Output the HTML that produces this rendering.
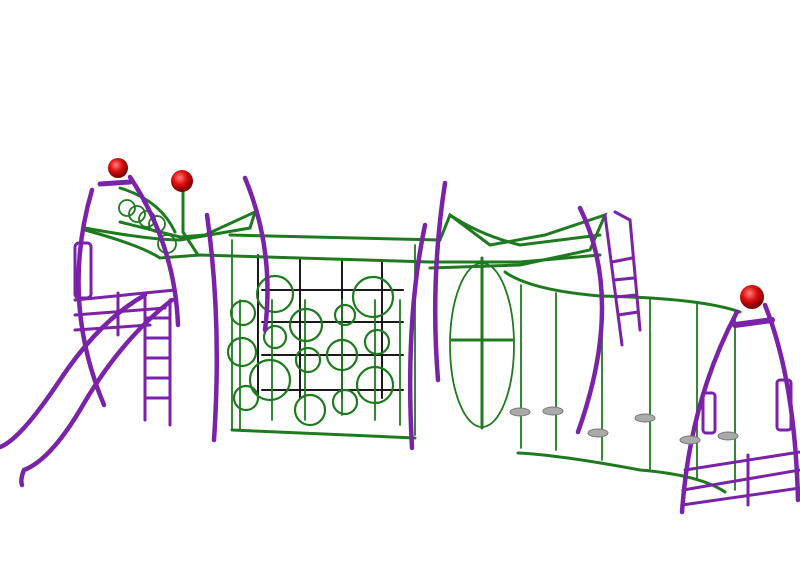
<!DOCTYPE html>
<html><head><style>html,body{margin:0;padding:0;background:#fff;width:800px;height:578px;overflow:hidden}</style></head>
<body>
<svg width="800" height="578" viewBox="0 0 800 578" xmlns="http://www.w3.org/2000/svg">
<defs>
<radialGradient id="rb" cx="40%" cy="35%" r="60%"><stop offset="0" stop-color="#ff8080"/><stop offset=".5" stop-color="#e01010"/><stop offset="1" stop-color="#800000"/></radialGradient>
</defs>
<g fill="none" stroke-linecap="round">
<g stroke="#1a1a1a" stroke-width="2">
<path d="M258 255 V395 M300 258 V398 M342 260 V398 M382 260 V398 M262 290 H403 M262 322 H403 M262 355 H403 M262 390 H403"/>
</g>
<g stroke="#1f7a1f" stroke-width="3">
<path d="M85 228 Q150 240 180 240 L250 228 L255 212 L205 235 L180 237 L120 222"/>
<path d="M85 230 Q140 245 160 258 L200 255 L430 262 L520 262 L600 255"/>
<path d="M230 235 L440 240 M232 430 L415 438"/>
<path d="M440 240 L450 215 L490 245 L545 235 L605 215 L590 250 L520 265 L430 268"/>
<path d="M450 215 Q480 235 520 245 L600 235"/>
<path d="M120 188 Q160 200 175 232 M183 190 V232 L198 255"/>
<path d="M505 272 Q530 290 600 296 Q700 298 740 312"/>
<path d="M518 453 Q560 455 640 470 Q700 475 725 492"/>
<path d="M482 258 V428 M452 340 H512"/>
</g>
<g stroke="#1f7a1f" stroke-width="1.8">
<path d="M232 240 V430 M415 245 V435"/>
<path d="M240 300 V430 M272 300 V420 M305 300 V420 M342 300 V415 M375 300 V420 M400 300 V425"/>
<path d="M521 285 V448 M556 293 V450 M602 298 V460 M650 300 V470 M697 302 V480 M735 310 V490"/>
<ellipse cx="482" cy="345" rx="32" ry="82"/>
<circle cx="127" cy="208" r="8"/><circle cx="137" cy="214" r="8"/><circle cx="147" cy="219" r="8"/><circle cx="157" cy="224" r="8"/><circle cx="167" cy="244" r="9"/>
</g>
<g stroke="#1f7a1f" stroke-width="2.2">
<circle cx="243" cy="313" r="12"/><circle cx="242" cy="352" r="14"/><circle cx="246" cy="398" r="12"/>
<circle cx="275" cy="294" r="18"/><circle cx="275" cy="337" r="11"/><circle cx="270" cy="380" r="20"/>
<circle cx="306" cy="325" r="16"/><circle cx="308" cy="360" r="12"/><circle cx="310" cy="410" r="15"/>
<circle cx="345" cy="315" r="10"/><circle cx="342" cy="355" r="15"/><circle cx="345" cy="402" r="12"/>
<circle cx="373" cy="297" r="20"/><circle cx="377" cy="342" r="12"/><circle cx="375" cy="385" r="18"/>
</g>
<g stroke="#7a22a8" stroke-width="4.5">
<path d="M92 190 Q60 300 104 405"/>
<path d="M130 177 Q175 245 178 325"/>
<path d="M207 215 Q222 320 214 440"/>
<path d="M245 178 Q275 250 265 330"/>
<path d="M425 225 Q405 320 412 448"/>
<path d="M445 183 Q430 280 438 380"/>
<path d="M580 208 Q625 300 578 432"/>
<path d="M737 312 Q690 400 682 512"/>
<path d="M765 305 Q795 380 798 500"/>
<path d="M145 295 Q100 320 60 380 Q20 440 0 447"/>
<path d="M172 300 Q120 340 80 410 Q50 460 24 470 Q20 480 22 485"/>
</g>
<g stroke="#7a22a8" stroke-width="3">
<path d="M145 298 V420 M170 300 V425 M145 318 H170 M145 338 H170 M145 358 H170 M145 378 H170 M145 398 H170"/>
<path d="M75 300 L175 290 M75 315 L165 308 M75 330 L150 325 M118 293 V335"/>
<path d="M605 215 L622 345 M615 212 L630 220 L640 330 M612 262 L632 258 M614 280 L634 278 M616 297 L636 295 M618 315 L638 312"/>
<path d="M685 470 L800 452 M683 490 L800 470 M682 505 L800 488 M748 455 V505"/>
<path d="M735 325 L772 320" stroke-width="6"/>
<path d="M100 184 L130 182" stroke-width="5"/>
<rect x="75" y="243" width="16" height="55" rx="4"/>
<rect x="703" y="393" width="12" height="40" rx="3"/>
<rect x="777" y="380" width="14" height="50" rx="3"/>
</g>
<g fill="#aaa" stroke="#777" stroke-width="1">
<ellipse cx="520" cy="412" rx="10" ry="4"/><ellipse cx="553" cy="411" rx="10" ry="4"/><ellipse cx="598" cy="433" rx="10" ry="4"/><ellipse cx="645" cy="418" rx="10" ry="4"/><ellipse cx="690" cy="440" rx="10" ry="4"/><ellipse cx="728" cy="436" rx="10" ry="4"/>
</g>
</g>
<circle cx="118" cy="168" r="10" fill="url(#rb)"/>
<circle cx="182" cy="181" r="11" fill="url(#rb)"/>
<circle cx="752" cy="297" r="12" fill="url(#rb)"/>
</svg>
</body></html>
